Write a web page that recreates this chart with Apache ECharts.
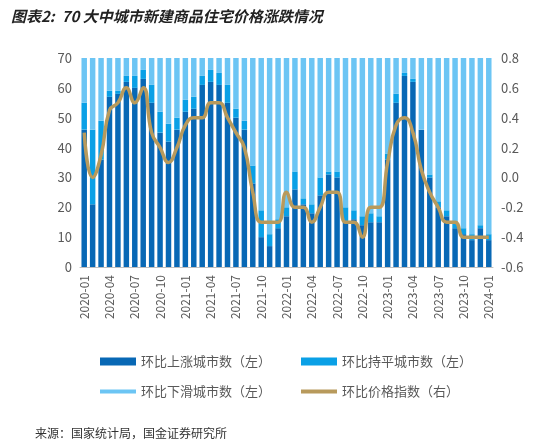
<!DOCTYPE html>
<html><head><meta charset="utf-8">
<script src="https://cdn.jsdelivr.net/npm/echarts@6/dist/echarts.min.js"></script>
<style>body{margin:0}#c{width:559px;height:445px}</style></head>
<body><div id="c"></div>
<script>
const months = [];
for (let y = 2020; y <= 2024; y++) for (let m = 1; m <= 12; m++) if (y < 2024 || m === 1) months.push(y + '-' + String(m).padStart(2, '0'));
const rise = [46,21,36,57,58,62,60,63,55,45,42,46, 52,53,61,62,61,55,50,46,28,10,7,13,
  17,26,21,18,24,31,30,15,16,14,15,15, 36,55,64,62,46,30,20,17,13,11,9,13,9];
const flat = [9,25,13,2,1,2,4,3,6,7,6,4, 4,4,3,4,4,6,3,3,6,9,4,3,
  3,6,2,3,6,1,2,5,3,3,3,2, 2,3,1,1,0,1,2,2,2,2,2,1,2];
const fall = rise.map((v, i) => 70 - v - flat[i]);
const index = [0.3,0.0,0.15,0.45,0.5,0.6,0.5,0.6,0.3,0.2,0.1,0.2, 0.35,0.4,0.4,0.5,0.5,0.4,0.3,0.2,-0.1,-0.3,-0.3,-0.3,
  -0.1,-0.2,-0.2,-0.3,-0.2,-0.1,-0.1,-0.3,-0.3,-0.4,-0.2,-0.2, 0.1,0.35,0.4,0.3,0.05,-0.1,-0.2,-0.3,-0.3,-0.4,-0.4,-0.4,-0.4];

const chart = echarts.init(document.getElementById('c'));
const font = { fontFamily: 'Noto Sans CJK SC', color: '#595959', fontSize: 13 };
const legendBase = { itemGap: 30, itemWidth: 36, itemHeight: 8, textStyle: font, icon: 'rect' };
chart.setOption({
  animation: false,
  title: [
    { text: '图表2:  70 大中城市新建商品住宅价格涨跌情况', left: 6, top: 4,
      textStyle: { fontFamily: 'Noto Sans CJK SC', fontStyle: 'italic', fontWeight: 'bold', fontSize: 15, color: '#222' } },
    { text: '来源：国家统计局，国金证券研究所', left: 30, top: 422,
      textStyle: { fontFamily: 'Noto Sans CJK SC', fontWeight: 'normal', fontSize: 12, color: '#333' } }
  ],
  grid: { left: 80, right: 66, top: 58, bottom: 178 },
  legend: [
    { ...legendBase, left: 95, top: 350, data: ['环比上涨城市数（左）', '环比持平城市数（左）'] },
    { ...legendBase, left: 95, top: 380, data: ['环比下滑城市数（左）', { name: '环比价格指数（右）', icon: 'rect', itemStyle: { color: '#b89a5c' } }],
      itemHeight: 4 }
  ],
  xAxis: {
    type: 'category', data: months,
    axisLine: { lineStyle: { color: '#bfbfbf' } }, axisTick: { show: false },
    axisLabel: { ...font, rotate: 90, interval: 2, fontSize: 12 }
  },
  yAxis: [
    { type: 'value', min: 0, max: 70, interval: 10, splitLine: { show: false }, axisLabel: font },
    { type: 'value', min: -0.6, max: 0.8, interval: 0.2, splitLine: { show: false },
      axisLabel: { ...font, formatter: v => v.toFixed(1) } }
  ],
  series: [
    { name: '环比上涨城市数（左）', type: 'bar', stack: 'a', data: rise, barWidth: '65%', itemStyle: { color: '#0868b5' } },
    { name: '环比持平城市数（左）', type: 'bar', stack: 'a', data: flat, itemStyle: { color: '#0aa0e6' } },
    { name: '环比下滑城市数（左）', type: 'bar', stack: 'a', data: fall, itemStyle: { color: '#6cc5f4' } },
    { name: '环比价格指数（右）', type: 'line', yAxisIndex: 1, data: index, smooth: true, symbol: 'none',
      lineStyle: { color: '#b89a5c', width: 3.5 }, itemStyle: { color: '#b89a5c' } }
  ]
});
</script></body></html>
